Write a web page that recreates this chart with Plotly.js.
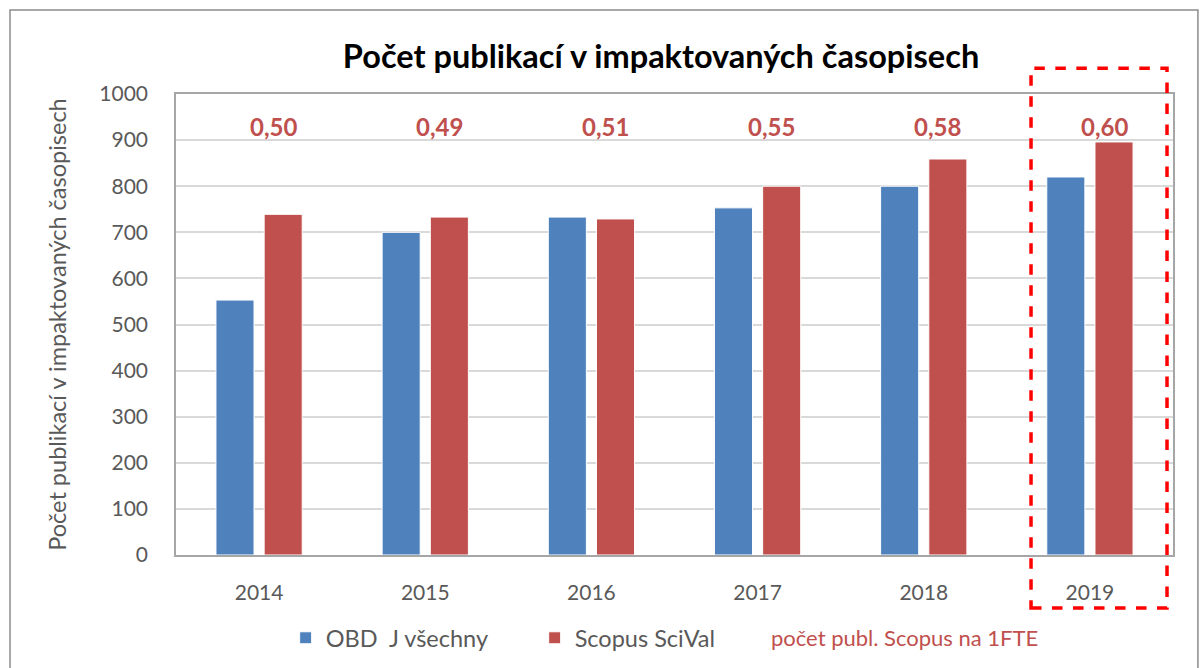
<!DOCTYPE html>
<html>
<head>
<meta charset="utf-8">
<script src="https://cdn.plot.ly/plotly-3.0.1.min.js"></script>
<style>html,body{margin:0;padding:0;background:#fff;}#chart{width:1203px;height:668px;}</style>
</head>
<body>
<div id="chart"></div>
<script>
const years = ["2014", "2015", "2016", "2017", "2018", "2019"];
const obdValues = [553, 700, 733, 753, 800, 820];
const scopusValues = [739, 733, 729, 800, 859, 896];
const ratioLabels = ["0,50", "0,49", "0,51", "0,55", "0,58", "0,60"];
const ratioLabelLevel = 930;
const seriesNames = ["OBD \u00a0J všechny", "Scopus SciVal"];
const extraLegendText = "počet publ. Scopus na 1FTE";
const titleText = "Počet publikací v impaktovaných časopisech";
const yTitleText = "Počet publikací v impaktovaných časopisech";

const FONT = "Lato, 'Open Sans', sans-serif";
const gray = "#595959";
const redText = "#C0504D";

const traces = [
  {type: "bar", name: seriesNames[0], x: years, y: obdValues,
   marker: {color: "#4F81BD", line: {color: "#ffffff", width: 1}}},
  {type: "bar", name: seriesNames[1], x: years, y: scopusValues,
   marker: {color: "#C0504D", line: {color: "#ffffff", width: 1}}}
];

// category annotations: x given as category index (serial number), nudged toward the red bar
const labelShift = 0.085;
const annotations = years.map((yr, i) => ({
  x: i + labelShift, y: ratioLabelLevel, xref: "x", yref: "y", text: "<b>" + ratioLabels[i] + "</b>",
  showarrow: false, font: {family: FONT, size: 24, color: redText}
}));
annotations.push({
  x: 0.595, y: -0.178, xref: "paper", yref: "paper", xanchor: "left", yanchor: "middle",
  text: extraLegendText, showarrow: false, font: {family: FONT, size: 22, color: redText}
});

const layout = {
  width: 1203, height: 668,
  margin: {l: 176, r: 30, t: 94, b: 113, autoexpand: false},
  paper_bgcolor: "#ffffff", plot_bgcolor: "#ffffff",
  font: {family: FONT, size: 18, color: gray},
  title: {text: "<b>" + titleText + "</b>", x: 0.4865, xref: "paper", xanchor: "center",
          y: 1 - 57 / 668, yref: "container", yanchor: "middle",
          font: {family: FONT, size: 32.5, color: "#000000"}},
  barmode: "group", bargap: 0.42, bargroupgap: 0.21,
  xaxis: {type: "category", range: [-0.5, 5.5], showline: true, linecolor: "#a6a6a6", linewidth: 1.5, mirror: true,
          ticks: "outside", ticklen: 18, tickcolor: "rgba(0,0,0,0)",
          tickfont: {family: FONT, size: 21, color: gray},
          showgrid: false, zeroline: false},
  yaxis: {range: [0, 1000], dtick: 100, showline: true, linecolor: "#a6a6a6", linewidth: 1.5, mirror: true,
          gridcolor: "#d9d9d9", gridwidth: 1.5, zeroline: false,
          ticks: "outside", ticklen: 22, tickcolor: "rgba(0,0,0,0)",
          tickfont: {family: FONT, size: 21, color: gray},
          title: {text: yTitleText, font: {family: FONT, size: 23.5, color: gray}, standoff: 26}},
  legend: {orientation: "h", x: 0.110, xanchor: "left", y: 1 - 638 / 668, yref: "container", yanchor: "middle",
           font: {family: FONT, size: 23.5, color: gray},
           entrywidth: 204, entrywidthmode: "pixels",
           bgcolor: "rgba(0,0,0,0)"},
  annotations: annotations,
  shapes: [
    {type: "rect", xref: "paper", yref: "paper", x0: -0.1665, x1: 1.025, y0: -0.3, y1: 1.1822,
     line: {color: "#8c8c8c", width: 1.5}, fillcolor: "rgba(0,0,0,0)", layer: "above"},
    {type: "rect", xref: "paper", yref: "paper", x0: 0.8576, x1: 0.9940, y0: -0.115, y1: 1.056,
     line: {color: "#FF0000", width: 3.5, dash: "dash"}, fillcolor: "rgba(0,0,0,0)", layer: "above"}
  ],
  showlegend: true
};

Plotly.newPlot("chart", traces, layout, {displayModeBar: false});
</script>
</body>
</html>
